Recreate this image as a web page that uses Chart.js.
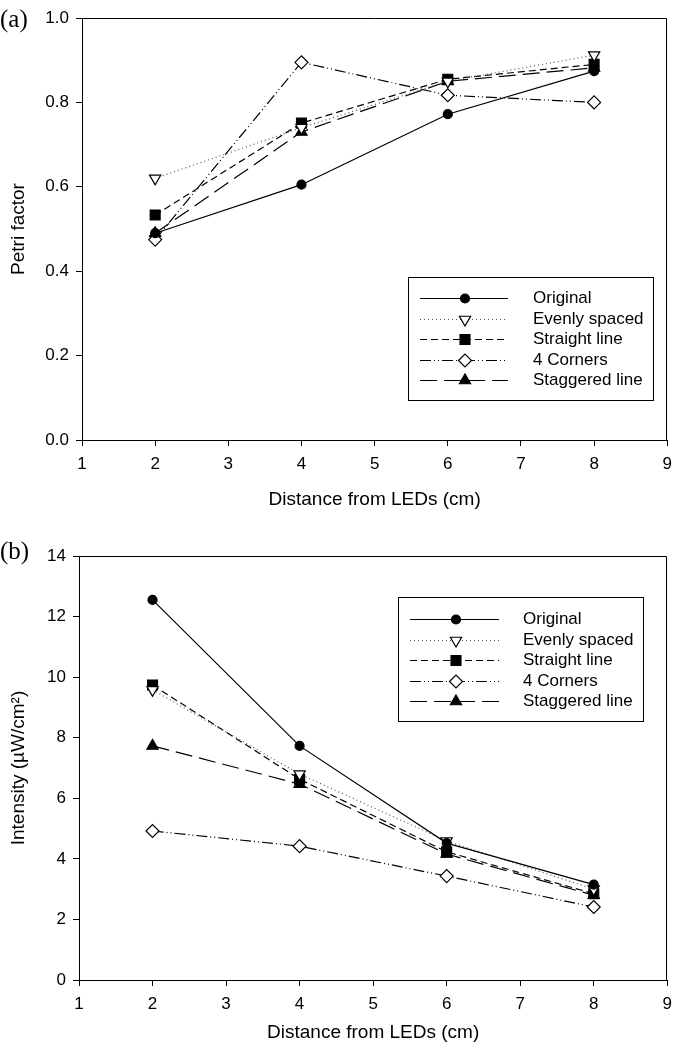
<!DOCTYPE html>
<html>
<head>
<meta charset="utf-8">
<title>Petri factor and intensity vs distance</title>
<script src="https://cdn.jsdelivr.net/npm/chart.js@4.4.1/dist/chart.umd.min.js"></script>
<style>
  body { margin: 0; background: #fff; width: 680px; height: 1046px; position: relative; overflow: hidden; }
  .panel { position: absolute; left: 0; width: 680px; height: 523px; }
  #panelA { top: 0; }
  #panelB { top: 523px; }
  .tag { position: absolute; left: 0; font-family: "Liberation Serif", "Times New Roman", serif; font-size: 25px; color: #000; line-height: 1; }
</style>
</head>
<body>
<div class="panel" id="panelA"><canvas id="chartA" width="680" height="523"></canvas></div>
<div class="panel" id="panelB"><canvas id="chartB" width="680" height="523"></canvas></div>
<div class="tag" style="top:6px;">(a)</div>
<div class="tag" style="top:538px;">(b)</div>
<script>
  'use strict';

  // Data.
  var distance = [2, 4, 6, 8];
  var seriesNames = ['Original', 'Evenly spaced', 'Straight line', '4 Corners', 'Staggered line'];

  // (a) Petri factor.
  var petriOriginal = [0.49, 0.605, 0.772, 0.874];
  var petriEven = [0.62, 0.74, 0.85, 0.912];
  var petriStraight = [0.533, 0.751, 0.855, 0.89];
  var petriCorners = [0.475, 0.895, 0.817, 0.80];
  var petriStaggered = [0.49, 0.73, 0.85, 0.882];

  // (b) Intensity (uW/cm2).
  var intOriginal = [12.55, 7.73, 4.52, 3.15];
  var intEven = [9.58, 6.8, 4.59, 3.0];
  var intStraight = [9.74, 6.63, 4.23, 2.85];
  var intCorners = [4.92, 4.42, 3.43, 2.41];
  var intStaggered = [7.73, 6.47, 4.16, 2.8];

  // Tick labels.
  var xTicks = [1, 2, 3, 4, 5, 6, 7, 8, 9];
  var petriTicks = [0, 0.2, 0.4, 0.6, 0.8, 1.0];
  var intTicks = [0, 2, 4, 6, 8, 10, 12, 14];

  var FONT = '"Liberation Sans", Arial, Helvetica, sans-serif';

  // Line and marker look of each series.
  var looks = [
    { dash: [], color: '#000', point: 'circle', radius: 4.5, fill: '#000', rot: 0 },
    { dash: [1, 3], color: '#555', point: 'triangle', radius: 6.5, fill: '#fff', rot: 180 },
    { dash: [7, 4], color: '#000', point: 'rect', radius: 7, fill: '#000', rot: 0 },
    { dash: [11, 3, 1, 3, 1, 3], color: '#000', point: 'rectRot', radius: 6.5, fill: '#fff', rot: 0 },
    { dash: [17, 7], color: '#000', point: 'triangle', radius: 6.5, fill: '#000', rot: 0 }
  ];

  function toPoints(values) {
    return values.map(function (v, i) { return { x: distance[i], y: v }; });
  }

  function buildDatasets(list) {
    return list.map(function (values, i) {
      var lk = looks[i];
      return {
        label: seriesNames[i],
        data: toPoints(values),
        borderColor: lk.color,
        borderWidth: 1.2,
        borderDash: lk.dash,
        tension: 0,
        fill: false,
        pointStyle: lk.point,
        pointRadius: lk.radius,
        pointRotation: lk.rot,
        pointBackgroundColor: lk.fill,
        pointBorderColor: '#000',
        pointBorderWidth: 1.2
      };
    });
  }

  // Closed frame around the plot area.
  var framePlugin = {
    id: 'frame',
    afterDraw: function (chart) {
      var a = chart.chartArea, ctx = chart.ctx;
      ctx.save();
      ctx.strokeStyle = '#000';
      ctx.lineWidth = 1;
      ctx.setLineDash([]);
      ctx.beginPath();
      ctx.moveTo(Math.round(a.left) + 0.5, Math.round(a.top) + 0.5);
      ctx.lineTo(Math.round(a.right) - 0.5, Math.round(a.top) + 0.5);
      ctx.lineTo(Math.round(a.right) - 0.5, Math.round(a.bottom) + 0.5);
      ctx.stroke();
      ctx.restore();
    }
  };

  // Boxed legend with line samples.
  var boxLegend = {
    id: 'boxLegend',
    afterDatasetsDraw: function (chart, args, opts) {
      var ctx = chart.ctx;
      ctx.save();
      ctx.fillStyle = '#fff';
      ctx.fillRect(opts.x, opts.y, opts.w, opts.h);
      ctx.strokeStyle = '#000';
      ctx.lineWidth = 1;
      ctx.setLineDash([]);
      ctx.strokeRect(opts.x + 0.5, opts.y + 0.5, opts.w, opts.h);
      chart.data.datasets.forEach(function (ds, i) {
        var y = Math.round(opts.rowY + i * opts.rowGap) + 0.5;
        ctx.strokeStyle = ds.borderColor;
        ctx.lineWidth = ds.borderWidth;
        ctx.setLineDash(ds.borderDash);
        ctx.beginPath();
        ctx.moveTo(opts.lineX0, y);
        ctx.lineTo(opts.lineX1, y);
        ctx.stroke();
        ctx.setLineDash([]);
        ctx.fillStyle = ds.pointBackgroundColor;
        ctx.strokeStyle = ds.pointBorderColor;
        ctx.lineWidth = ds.pointBorderWidth;
        Chart.helpers.drawPoint(ctx, {
          pointStyle: ds.pointStyle,
          rotation: ds.pointRotation,
          radius: ds.pointRadius,
          borderWidth: ds.pointBorderWidth
        }, opts.markX, y);
        ctx.fillStyle = '#000';
        ctx.font = opts.fontSize + 'px ' + FONT;
        ctx.textBaseline = 'middle';
        ctx.textAlign = 'left';
        ctx.fillText(ds.label, opts.textX, y);
      });
      ctx.restore();
    }
  };

  function makeChart(id, series, yTicks, yTitle, cfg) {
    var yMin = yTicks[0], yMax = yTicks[yTicks.length - 1];
    return new Chart(document.getElementById(id), {
      type: 'line',
      data: { datasets: buildDatasets(series) },
      options: {
        responsive: false,
        animation: false,
        devicePixelRatio: 1,
        layout: { padding: { left: 0, right: cfg.padRight, top: cfg.padTop, bottom: 0 } },
        plugins: {
          legend: { display: false },
          tooltip: { enabled: false },
          boxLegend: cfg.legend
        },
        scales: {
          x: {
            type: 'linear',
            min: xTicks[0],
            max: xTicks[xTicks.length - 1],
            afterBuildTicks: function (scale) {
              scale.ticks = xTicks.map(function (v) { return { value: v }; });
            },
            afterFit: function (scale) { scale.height = cfg.xHeight; },
            ticks: { color: '#000', font: { family: FONT, size: 17 }, padding: 8, maxRotation: 0 },
            grid: { drawOnChartArea: false, drawTicks: true, tickLength: 6, tickColor: '#000', tickWidth: 1 },
            border: { color: '#000', width: 1 },
            title: {
              display: true,
              text: 'Distance from LEDs (cm)',
              color: '#000',
              font: { family: FONT, size: 19 },
              padding: { top: 0, bottom: cfg.xTitlePad }
            }
          },
          y: {
            min: yMin,
            max: yMax,
            afterBuildTicks: function (scale) {
              scale.ticks = yTicks.map(function (v) { return { value: v }; });
            },
            afterFit: function (scale) { scale.width = cfg.yWidth; },
            ticks: {
              color: '#000',
              font: { family: FONT, size: 17 },
              padding: 7,
              callback: function (v) { return cfg.fmt(v); }
            },
            grid: { drawOnChartArea: false, drawTicks: true, tickLength: 6, tickColor: '#000', tickWidth: 1 },
            border: { color: '#000', width: 1 },
            title: {
              display: true,
              text: yTitle,
              color: '#000',
              font: { family: FONT, size: 19 },
              padding: { top: 7, bottom: 0 }
            }
          }
        }
      },
      plugins: [framePlugin, boxLegend]
    });
  }

  makeChart('chartA',
    [petriOriginal, petriEven, petriStraight, petriCorners, petriStaggered],
    petriTicks, 'Petri factor', {
      padTop: 18, padRight: 5, xHeight: 83, yWidth: 82, xTitlePad: 12,
      fmt: function (v) { return v.toFixed(1); },
      legend: { x: 408, y: 277, w: 245, h: 123, lineX0: 420, lineX1: 508, markX: 465,
        textX: 533, rowY: 298, rowGap: 20.5, fontSize: 17 }
    });

  makeChart('chartB',
    [intOriginal, intEven, intStraight, intCorners, intStaggered],
    intTicks, 'Intensity (µW/cm²)', {
      padTop: 33, padRight: 6, xHeight: 66, yWidth: 79, xTitlePad: 2,
      fmt: function (v) { return String(v); },
      legend: { x: 398, y: 74, w: 245, h: 124, lineX0: 410, lineX1: 499, markX: 456,
        textX: 523, rowY: 96, rowGap: 20.5, fontSize: 17 }
    });
</script>
</body>
</html>
